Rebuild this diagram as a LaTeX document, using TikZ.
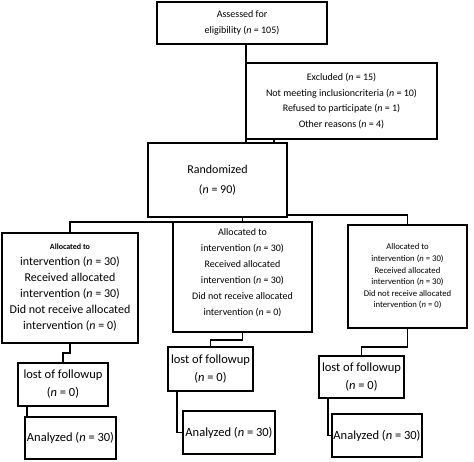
\documentclass[tikz,border=0pt]{standalone}
\usepackage{fontspec}
\setmainfont{Carlito}
\tikzset{
  box/.style={draw, line width=2.2pt, anchor=north west, inner sep=0pt, outer sep=0pt, align=center},
  conn/.style={line width=1.8pt},
}
\newcommand{\nn}{\textit{n}}
\begin{document}
\begin{tikzpicture}[x=1pt,y=-1pt]
\useasboundingbox (0,0) rectangle (474,462);
\node[box, minimum width=170pt, minimum height=42pt, font=\fontsize{10}{16}\selectfont] (assess) at (157,2)
  {Assessed for\\eligibility (\nn{} = 105)};
\node[box, minimum width=191pt, minimum height=76pt, font=\fontsize{10}{15.7}\selectfont] (excl) at (246,63)
  {Excluded (\nn{} = 15)\\Not meeting inclusioncriteria (\nn{} = 10)\\Refused to participate (\nn{} = 1)\\Other reasons (\nn{} = 4)};
\node[box, minimum width=139pt, minimum height=74pt, font=\fontsize{12}{20}\selectfont] (rand) at (148,143)
  {Randomized\\(\nn{} = 90)};
\node[box, minimum width=136pt, minimum height=110pt, font=\fontsize{12}{16}\selectfont] (al1) at (2,233)
  {{\fontsize{8}{16}\selectfont\bfseries Allocated to}\\intervention (\nn{} = 30)\\Received allocated\\intervention (\nn{} = 30)\\Did not receive allocated\\intervention (\nn{} = 0)};
\node[box, minimum width=139pt, minimum height=110pt, font=\fontsize{10}{16}\selectfont] (al2) at (173,222)
  {Allocated to\\intervention (\nn{} = 30)\\Received allocated\\intervention (\nn{} = 30)\\Did not receive allocated\\intervention (\nn{} = 0)\\[-6pt]};
\node[box, minimum width=119pt, minimum height=103pt, font=\fontsize{8.7}{11.6}\selectfont] (al3) at (348,225)
  {Allocated to\\intervention (\nn{} = 30)\\Received allocated\\intervention (\nn{} = 30)\\Did not receive allocated\\intervention (\nn{} = 0)};
\node[box, minimum width=90pt, minimum height=43pt, font=\fontsize{12.5}{18}\selectfont] (lost1) at (18,363)
  {lost of followup\\(\nn{} = 0)};
\node[box, minimum width=85pt, minimum height=44pt, font=\fontsize{12.5}{18}\selectfont] (lost2) at (168,347)
  {lost of followup\\(\nn{} = 0)};
\node[box, minimum width=85pt, minimum height=42pt, font=\fontsize{12.5}{18}\selectfont] (lost3) at (319,356)
  {lost of followup\\(\nn{} = 0)};
\node[box, minimum width=91pt, minimum height=42pt, font=\fontsize{12.5}{18}\selectfont] (an1) at (25,417)
  {Analyzed (\nn{} = 30)};
\node[box, minimum width=92pt, minimum height=43pt, font=\fontsize{12.5}{18}\selectfont] (an2) at (183,411)
  {Analyzed (\nn{} = 30)};
\node[box, minimum width=90pt, minimum height=43pt, font=\fontsize{12.5}{18}\selectfont] (an3) at (332,414)
  {Analyzed (\nn{} = 30)};
% connectors
\draw[conn] (excl.north west |- assess.south) -- (excl.south west |- rand.north);
\draw[conn] ([xshift=-13pt]rand.north east) -- ([xshift=-13pt]rand.north east |- excl.south);
\draw[conn] (al2.north |- rand.south) -- (al2.north);
\draw[conn] (al2.north west) -| (al1.north);
\draw[conn] ([yshift=2pt]rand.south east) -| (al3.north);
\draw[conn] (al1.south) -- ++(0,10) -| (lost1.north);
\draw[conn] (al2.south) -- ++(0,8) -| (lost2.north);
\draw[conn] (al3.south) -- ++(0,19) -| (lost3.north);
\draw[conn] ([xshift=9pt]lost1.south west) -- ([xshift=9pt]lost1.south west |- an1.north);
\draw[conn] ([xshift=9pt]lost2.south west) |- (an2.west);
\draw[conn] ([xshift=9pt]lost3.south west) |- (an3.west);
\end{tikzpicture}
\end{document}
